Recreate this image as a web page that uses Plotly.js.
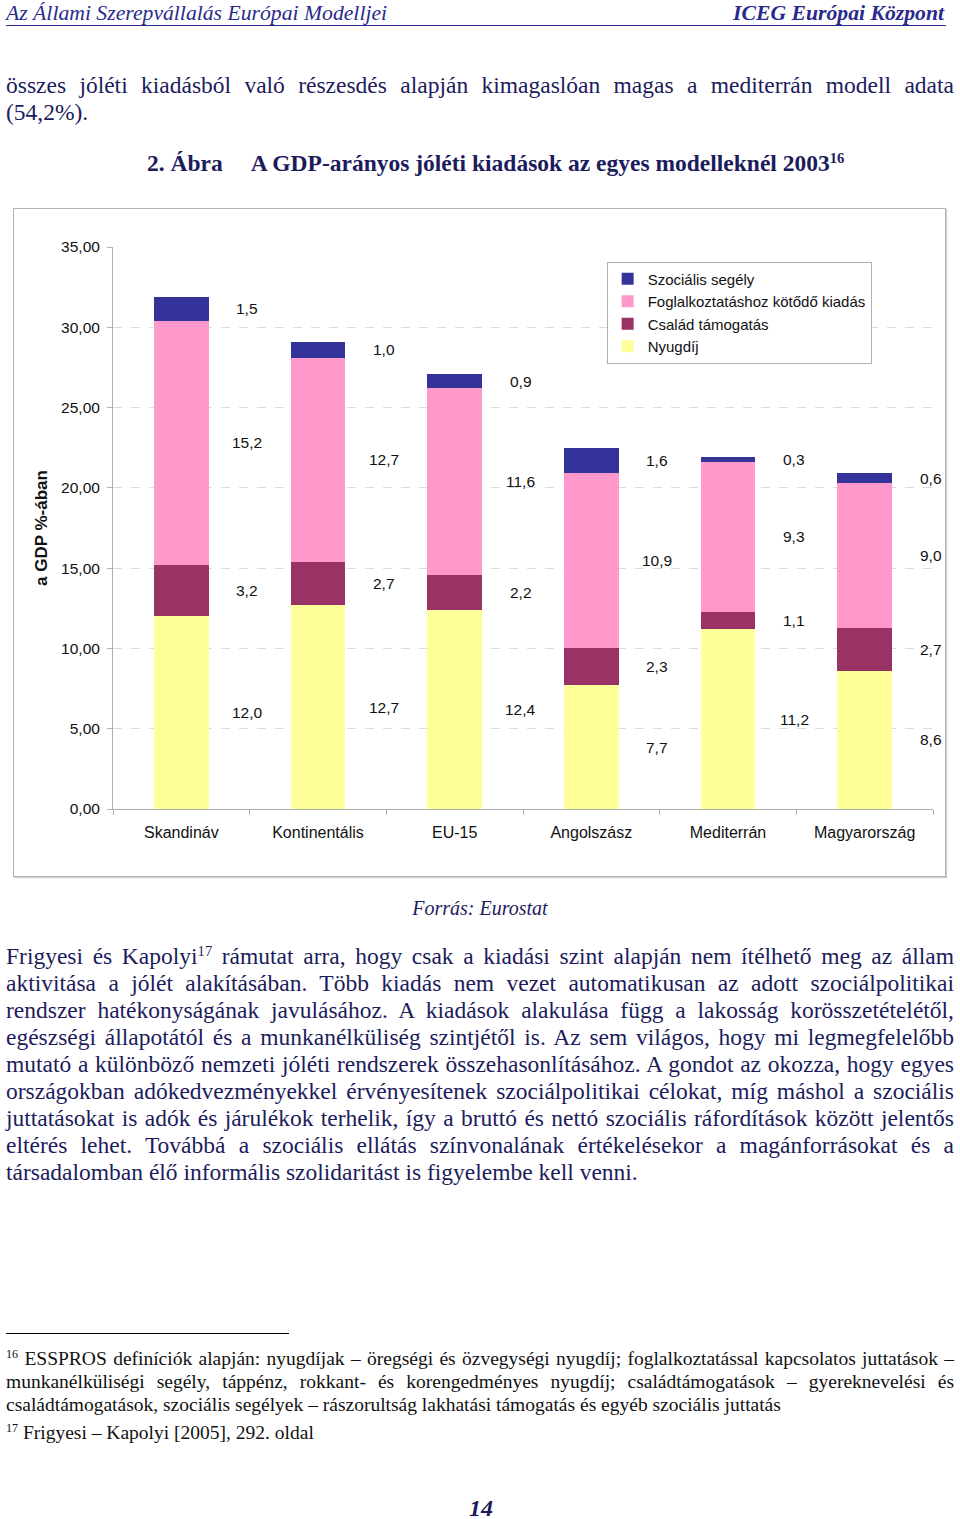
<!DOCTYPE html>
<html>
<head>
<meta charset="utf-8">
<script src="https://cdn.plot.ly/plotly-3.0.1.min.js"></script>
<style>
  html, body { margin:0; padding:0; background:#fff; }
  body { width:960px; height:1519px; position:relative; overflow:hidden; font-family:"Liberation Serif","Times New Roman",serif; }
  .abs { position:absolute; }
  .hdr { top:1px; left:6px; width:940px; height:24px; font-size:21.7px; line-height:24px; color:#2a2a8c; font-style:italic; border-bottom:1.5px solid #2a2a8c; }
  .hdr .r { position:absolute; right:2px; top:0; font-weight:bold; }
  .line { left:6px; width:948px; font-size:23.5px; line-height:27px; color:#1c1c5c; text-align:justify; text-align-last:justify; white-space:nowrap; }
  .fn { left:6px; width:948px; font-size:19.5px; line-height:23px; color:#111; text-align:justify; text-align-last:justify; white-space:nowrap; }
  .abs.last { text-align-last:left; text-align:left; }
  sup { font-size:62%; line-height:0; vertical-align:0.55em; }
  #chart { position:absolute; left:13px; top:208px; width:931px; height:667px; border:1px solid #b4b4b4; box-shadow:1px 1px 1px #d0d0d0; }
</style>
</head>
<body>
<div class="abs hdr">Az Állami Szerepvállalás Európai Modelljei<span class="r">ICEG Európai Központ</span></div>

<div class="abs line" style="top:72px;">összes jóléti kiadásból való részesdés alapján kimagaslóan magas a mediterrán modell adata</div>
<div class="abs line last" style="top:99px;">(54,2%).</div>

<div class="abs" style="top:150px; left:147px; font-size:23.5px; line-height:27px; font-weight:bold; color:#1c1c5c; white-space:nowrap;">2. Ábra<span style="display:inline-block;width:28px"></span>A GDP-arányos jóléti kiadások az egyes modelleknél 2003<sup>16</sup></div>

<div id="chart"></div>

<div class="abs" style="top:896px; left:0; width:960px; text-align:center; font-size:20px; line-height:24px; font-style:italic; color:#1c1c5c;">Forrás: Eurostat</div>

<div class="abs line" style="top:943px;">Frigyesi és Kapolyi<sup>17</sup> rámutat arra, hogy csak a kiadási szint alapján nem ítélhető meg az állam</div>
<div class="abs line" style="top:970px;">aktivitása a jólét alakításában. Több kiadás nem vezet automatikusan az adott szociálpolitikai</div>
<div class="abs line" style="top:997px;">rendszer hatékonyságának javulásához. A kiadások alakulása függ a lakosság korösszetételétől,</div>
<div class="abs line" style="top:1024px;">egészségi állapotától és a munkanélküliség szintjétől is. Az sem világos, hogy mi legmegfelelőbb</div>
<div class="abs line" style="top:1051px;">mutató a különböző nemzeti jóléti rendszerek összehasonlításához. A gondot az okozza, hogy egyes</div>
<div class="abs line" style="top:1078px;">országokban adókedvezményekkel érvényesítenek szociálpolitikai célokat, míg máshol a szociális</div>
<div class="abs line" style="top:1105px;">juttatásokat is adók és járulékok terhelik, így a bruttó és nettó szociális ráfordítások között jelentős</div>
<div class="abs line" style="top:1132px;">eltérés lehet. Továbbá a szociális ellátás színvonalának értékelésekor a magánforrásokat és a</div>
<div class="abs line last" style="top:1159px;">társadalomban élő informális szolidaritást is figyelembe kell venni.</div>

<div class="abs" style="top:1333px; left:6px; width:283px; height:0; border-top:1.5px solid #000;"></div>
<div class="abs fn" style="top:1347px;"><sup>16</sup> ESSPROS definíciók alapján: nyugdíjak – öregségi és özvegységi nyugdíj; foglalkoztatással kapcsolatos juttatások –</div>
<div class="abs fn" style="top:1370px;">munkanélküliségi segély, táppénz, rokkant- és korengedményes nyugdíj; családtámogatások – gyereknevelési és</div>
<div class="abs fn last" style="top:1393px;">családtámogatások, szociális segélyek – rászorultság lakhatási támogatás és egyéb szociális juttatás</div>
<div class="abs fn last" style="top:1421px;"><sup>17</sup> Frigyesi – Kapolyi [2005], 292. oldal</div>

<div class="abs" style="top:1494px; left:0; width:962px; text-align:center; font-size:24px; line-height:28px; font-weight:bold; font-style:italic; color:#1c1c5c;">14</div>

<script>
const categories = ['Skandináv', 'Kontinentális', 'EU-15', 'Angolszász', 'Mediterrán', 'Magyarország'];
const nyugdij    = [12.0, 12.7, 12.4, 7.7, 11.2, 8.6];
const csalad     = [3.2, 2.7, 2.2, 2.3, 1.1, 2.7];
const foglalk    = [15.2, 12.7, 11.6, 10.9, 9.3, 9.0];
const szocialis  = [1.5, 1.0, 0.9, 1.6, 0.3, 0.6];
const seriesNames = ['Nyugdíj', 'Család támogatás', 'Foglalkoztatáshoz kötődő kiadás', 'Szociális segély'];
const seriesColors = ['#FFFF99', '#993366', '#FF99CC', '#333399'];
const yTicks = [0, 5, 10, 15, 20, 25, 30, 35];

const FONT = 'Arial, Liberation Sans, sans-serif';
const seriesData = [nyugdij, csalad, foglalk, szocialis];
const traces = seriesData.map((vals, i) => ({
  type: 'bar',
  name: seriesNames[i],
  x: categories,
  y: vals,
  marker: { color: seriesColors[i], line: { width: 0 } },
  hoverinfo: 'skip'
}));

const fmt = v => v.toFixed(1).replace('.', ',');
const annotations = [];
categories.forEach((c, ci) => {
  let base = 0;
  seriesData.forEach(vals => {
    const v = vals[ci];
    annotations.push({
      xref: 'x', yref: 'y', x: c, y: base + v / 2,
      xshift: 66, text: fmt(v), showarrow: false,
      font: { family: FONT, size: 15.5, color: '#111' }
    });
    base += v;
  });
});

const layout = {
  width: 931, height: 667,
  margin: { l: 99, r: 12, t: 38, b: 67 },
  paper_bgcolor: '#fff', plot_bgcolor: '#fff',
  barmode: 'stack',
  bargap: 0.6,
  showlegend: true,
  legend: {
    x: 0.602, y: 0.974, xanchor: 'left', yanchor: 'top',
    traceorder: 'reversed',
    bordercolor: '#b0b0b0', borderwidth: 1, bgcolor: '#fff',
    font: { family: FONT, size: 15, color: '#111' },
    itemwidth: 30, tracegroupgap: 0
  },
  xaxis: {
    type: 'category',
    range: [-0.5, categories.length - 0.5],
    autorange: false,
    showgrid: false,
    showline: true, linecolor: '#b0b0b0', linewidth: 1,
    ticks: 'outside', tickson: 'boundaries', ticklen: 5, tickcolor: '#b0b0b0',
    ticklabelstandoff: 9,
    tickfont: { family: FONT, size: 16, color: '#111' },
    automargin: false
  },
  yaxis: {
    range: [0, 35],
    autorange: false,
    tickvals: yTicks,
    ticktext: yTicks.map(v => v.toFixed(2).replace('.', ',')),
    showgrid: true, gridcolor: '#dcdcdc', griddash: 'dash', gridwidth: 1,
    zeroline: false,
    showline: true, linecolor: '#b0b0b0', linewidth: 1,
    ticks: 'outside', ticklen: 5, tickcolor: '#b0b0b0',
    ticklabelstandoff: 4,
    tickfont: { family: FONT, size: 15.5, color: '#111' },
    title: { text: 'a GDP %-ában', font: { family: FONT, size: 17, color: '#111', weight: 'bold' }, standoff: 9 },
    automargin: false
  },
  annotations: annotations
};

Plotly.newPlot('chart', traces, layout, { displayModeBar: false, staticPlot: true });
</script>
</body>
</html>
